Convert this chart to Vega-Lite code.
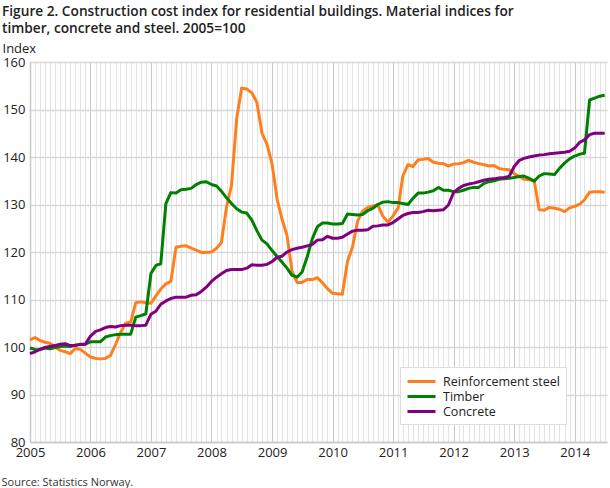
{
  "$schema": "https://vega.github.io/schema/vega-lite/v6.json",
  "width": 577,
  "height": 380,
  "autosize": {"type": "none"},
  "padding": {"left": 30, "top": 62, "right": 3, "bottom": 46},
  "background": "white",
  "config": {
    "font": "Open Sans",
    "view": {"stroke": null}
  },
  "title": {
    "text": ["Figure 2. Construction cost index for residential buildings. Material indices for", "timber, concrete and steel. 2005=100"],
    "anchor": "start",
    "frame": "group",
    "orient": "top",
    "dx": -28,
    "offset": 6,
    "fontSize": 13.7,
    "fontWeight": 600,
    "lineHeight": 17,
    "color": "#222222",
    "font": "Open Sans"
  },
  "data": {
    "values": [
      {"date": "2005-01", "s": 101.5, "t": 99.8, "c": 98.6},
      {"date": "2005-02", "s": 102, "t": 99.5, "c": 99},
      {"date": "2005-03", "s": 101.4, "t": 99.4, "c": 99.5},
      {"date": "2005-04", "s": 101, "t": 99.8, "c": 99.9},
      {"date": "2005-05", "s": 100.8, "t": 99.6, "c": 100.1},
      {"date": "2005-06", "s": 100, "t": 99.9, "c": 100.3},
      {"date": "2005-07", "s": 99.3, "t": 100.1, "c": 100.6},
      {"date": "2005-08", "s": 99, "t": 100.2, "c": 100.7},
      {"date": "2005-09", "s": 98.6, "t": 100.1, "c": 100.3},
      {"date": "2005-10", "s": 99.7, "t": 100.4, "c": 100.3},
      {"date": "2005-11", "s": 99.5, "t": 100.5, "c": 100.6},
      {"date": "2005-12", "s": 98.7, "t": 100.6, "c": 100.6},
      {"date": "2006-01", "s": 97.9, "t": 101.1, "c": 102.3},
      {"date": "2006-02", "s": 97.6, "t": 101.1, "c": 103.3},
      {"date": "2006-03", "s": 97.5, "t": 101.1, "c": 103.6},
      {"date": "2006-04", "s": 97.6, "t": 102.1, "c": 104.1},
      {"date": "2006-05", "s": 98.2, "t": 102.4, "c": 104.3},
      {"date": "2006-06", "s": 100.5, "t": 102.6, "c": 104.2},
      {"date": "2006-07", "s": 103, "t": 102.7, "c": 104.5},
      {"date": "2006-08", "s": 105, "t": 102.7, "c": 104.6},
      {"date": "2006-09", "s": 105.3, "t": 102.7, "c": 104.6},
      {"date": "2006-10", "s": 109.3, "t": 106.3, "c": 104.5},
      {"date": "2006-11", "s": 109.5, "t": 106.6, "c": 104.5},
      {"date": "2006-12", "s": 109.3, "t": 107, "c": 104.6},
      {"date": "2007-01", "s": 109.2, "t": 115.5, "c": 106.9},
      {"date": "2007-02", "s": 110.8, "t": 117.2, "c": 107.6},
      {"date": "2007-03", "s": 112.2, "t": 117.5, "c": 109},
      {"date": "2007-04", "s": 113.3, "t": 130.2, "c": 109.7},
      {"date": "2007-05", "s": 113.8, "t": 132.5, "c": 110.2},
      {"date": "2007-06", "s": 121, "t": 132.4, "c": 110.5},
      {"date": "2007-07", "s": 121.2, "t": 133.1, "c": 110.5},
      {"date": "2007-08", "s": 121.3, "t": 133.2, "c": 110.5},
      {"date": "2007-09", "s": 120.8, "t": 133.4, "c": 110.9},
      {"date": "2007-10", "s": 120.4, "t": 134.2, "c": 111},
      {"date": "2007-11", "s": 119.9, "t": 134.7, "c": 111.7},
      {"date": "2007-12", "s": 119.9, "t": 134.8, "c": 112.6},
      {"date": "2008-01", "s": 120, "t": 134.2, "c": 113.8},
      {"date": "2008-02", "s": 120.8, "t": 133.9, "c": 114.7},
      {"date": "2008-03", "s": 122, "t": 132.8, "c": 115.4},
      {"date": "2008-04", "s": 129.5, "t": 131.4, "c": 116.1},
      {"date": "2008-05", "s": 134, "t": 130.2, "c": 116.3},
      {"date": "2008-06", "s": 148, "t": 129.1, "c": 116.3},
      {"date": "2008-07", "s": 154.5, "t": 128.4, "c": 116.3},
      {"date": "2008-08", "s": 154.3, "t": 128.2, "c": 116.6},
      {"date": "2008-09", "s": 153.5, "t": 126.7, "c": 117.3},
      {"date": "2008-10", "s": 151.5, "t": 124.5, "c": 117.2},
      {"date": "2008-11", "s": 145, "t": 122.5, "c": 117.2},
      {"date": "2008-12", "s": 142.7, "t": 121.7, "c": 117.4},
      {"date": "2009-01", "s": 138.5, "t": 120.3, "c": 118},
      {"date": "2009-02", "s": 131, "t": 119, "c": 118.9},
      {"date": "2009-03", "s": 127, "t": 117.9, "c": 119.1},
      {"date": "2009-04", "s": 123.5, "t": 116.6, "c": 120},
      {"date": "2009-05", "s": 116, "t": 115.1, "c": 120.5},
      {"date": "2009-06", "s": 113.6, "t": 114.7, "c": 120.8},
      {"date": "2009-07", "s": 113.6, "t": 115.8, "c": 121},
      {"date": "2009-08", "s": 114.2, "t": 119, "c": 121.3},
      {"date": "2009-09", "s": 114.2, "t": 122.8, "c": 121.6},
      {"date": "2009-10", "s": 114.6, "t": 125.3, "c": 122.5},
      {"date": "2009-11", "s": 113.5, "t": 126.1, "c": 122.6},
      {"date": "2009-12", "s": 112.3, "t": 126.1, "c": 123.3},
      {"date": "2010-01", "s": 111.3, "t": 125.9, "c": 122.9},
      {"date": "2010-02", "s": 111.2, "t": 125.9, "c": 122.9},
      {"date": "2010-03", "s": 111.1, "t": 126, "c": 123.1},
      {"date": "2010-04", "s": 118, "t": 128, "c": 123.8},
      {"date": "2010-05", "s": 121, "t": 127.9, "c": 124.4},
      {"date": "2010-06", "s": 126.5, "t": 127.8, "c": 124.6},
      {"date": "2010-07", "s": 128.6, "t": 127.9, "c": 124.6},
      {"date": "2010-08", "s": 129.4, "t": 128.7, "c": 124.7},
      {"date": "2010-09", "s": 129.7, "t": 129.2, "c": 125.4},
      {"date": "2010-10", "s": 129.9, "t": 130, "c": 125.5},
      {"date": "2010-11", "s": 127.5, "t": 130.5, "c": 125.7},
      {"date": "2010-12", "s": 126.3, "t": 130.6, "c": 125.7},
      {"date": "2011-01", "s": 127.6, "t": 130.4, "c": 126.2},
      {"date": "2011-02", "s": 129.3, "t": 130.4, "c": 127},
      {"date": "2011-03", "s": 136, "t": 130.2, "c": 127.7},
      {"date": "2011-04", "s": 138.4, "t": 130, "c": 128.1},
      {"date": "2011-05", "s": 138, "t": 131.3, "c": 128.3},
      {"date": "2011-06", "s": 139.4, "t": 132.4, "c": 128.3},
      {"date": "2011-07", "s": 139.5, "t": 132.4, "c": 128.5},
      {"date": "2011-08", "s": 139.7, "t": 132.6, "c": 128.8},
      {"date": "2011-09", "s": 138.9, "t": 132.9, "c": 128.7},
      {"date": "2011-10", "s": 138.7, "t": 133.6, "c": 128.8},
      {"date": "2011-11", "s": 138.6, "t": 133, "c": 128.9},
      {"date": "2011-12", "s": 138.1, "t": 133, "c": 129.9},
      {"date": "2012-01", "s": 138.5, "t": 132.7, "c": 132.5},
      {"date": "2012-02", "s": 138.6, "t": 132.7, "c": 133.4},
      {"date": "2012-03", "s": 138.8, "t": 133, "c": 134},
      {"date": "2012-04", "s": 139.3, "t": 133.4, "c": 134.3},
      {"date": "2012-05", "s": 138.9, "t": 133.6, "c": 134.5},
      {"date": "2012-06", "s": 138.6, "t": 133.6, "c": 134.8},
      {"date": "2012-07", "s": 138.4, "t": 134.4, "c": 135.1},
      {"date": "2012-08", "s": 138.1, "t": 134.8, "c": 135.3},
      {"date": "2012-09", "s": 138.2, "t": 135, "c": 135.4},
      {"date": "2012-10", "s": 137.6, "t": 135.3, "c": 135.6},
      {"date": "2012-11", "s": 137.4, "t": 135.4, "c": 135.7},
      {"date": "2012-12", "s": 137.3, "t": 135.5, "c": 135.9},
      {"date": "2013-01", "s": 136.5, "t": 135.7, "c": 138},
      {"date": "2013-02", "s": 135.9, "t": 135.9, "c": 139.3},
      {"date": "2013-03", "s": 135.3, "t": 136, "c": 139.7},
      {"date": "2013-04", "s": 135.2, "t": 135.5, "c": 140},
      {"date": "2013-05", "s": 135.1, "t": 134.9, "c": 140.2},
      {"date": "2013-06", "s": 128.9, "t": 136, "c": 140.4},
      {"date": "2013-07", "s": 128.8, "t": 136.5, "c": 140.5},
      {"date": "2013-08", "s": 129.4, "t": 136.4, "c": 140.7},
      {"date": "2013-09", "s": 129.2, "t": 136.3, "c": 140.8},
      {"date": "2013-10", "s": 129, "t": 137.6, "c": 140.9},
      {"date": "2013-11", "s": 128.5, "t": 138.7, "c": 141},
      {"date": "2013-12", "s": 129.3, "t": 139.6, "c": 141.2},
      {"date": "2014-01", "s": 129.6, "t": 140.2, "c": 141.9},
      {"date": "2014-02", "s": 130.1, "t": 140.6, "c": 143.1},
      {"date": "2014-03", "s": 131, "t": 140.8, "c": 143.6},
      {"date": "2014-04", "s": 132.6, "t": 152, "c": 144.7},
      {"date": "2014-05", "s": 132.7, "t": 152.4, "c": 145},
      {"date": "2014-06", "s": 132.7, "t": 152.8, "c": 145},
      {"date": "2014-07", "s": 132.6, "t": 153, "c": 145}
    ],
    "format": {"parse": {"date": "date:'%Y-%m'"}}
  },
  "transform": [
    {"fold": ["s", "t", "c"], "as": ["key", "value"]},
    {"lookup": "key", "from": {"data": {"values": [
      {"key": "s", "series": "Reinforcement steel", "order": 0},
      {"key": "t", "series": "Timber", "order": 1},
      {"key": "c", "series": "Concrete", "order": 2}
    ]}, "key": "key", "fields": ["series", "order"]}}
  ],
  "mark": {"type": "line", "strokeWidth": 3, "strokeJoin": "round"},
  "encoding": {
    "x": {
      "field": "date",
      "type": "temporal",
      "scale": {"domain": [{"year": 2005, "month": 1, "date": 1}, {"year": 2014, "month": 7, "date": 15}]},
      "axis": {
        "tickCount": {"interval": "month", "step": 1},
        "labelExpr": "month(datum.value) == 0 ? timeFormat(datum.value, '%Y') : ''",
        "labelOverlap": false,
        "labelFlush": false,
        "labelFontSize": 13,
        "labelColor": "#222222",
        "labelPadding": 4,
        "ticks": false,
        "grid": true,
        "gridColor": {"condition": {"test": "month(datum.value) == 0", "value": "#c8c8c8"}, "value": "#e3e3e3"},
        "gridWidth": 1,
        "domainColor": "#c8c8c8",
        "domainWidth": 1.5,
        "title": "Source: Statistics Norway.",
        "titleAnchor": "start",
        "titleAlign": "left",
        "titleBaseline": "alphabetic",
        "titleX": -29,
        "titleY": 43,
        "titleFontSize": 11,
        "titleFontWeight": "normal",
        "titleColor": "#333333"
      }
    },
    "y": {
      "field": "value",
      "type": "quantitative",
      "scale": {"domain": [80, 160], "nice": false, "zero": false},
      "axis": {
        "values": [80, 90, 100, 110, 120, 130, 140, 150, 160],
        "ticks": false,
        "labelFontSize": 13,
        "labelColor": "#222222",
        "labelPadding": 5,
        "grid": true,
        "gridColor": "#d6d6d6",
        "gridWidth": 1.5,
        "domainColor": "#c8c8c8",
        "domainWidth": 1.5,
        "title": "Index",
        "titleAngle": 0,
        "titleAlign": "left",
        "titleBaseline": "alphabetic",
        "titleX": -28,
        "titleY": -10,
        "titleFontSize": 13,
        "titleFontWeight": "normal",
        "titleColor": "#222222"
      }
    },
    "color": {
      "field": "series",
      "type": "nominal",
      "scale": {"domain": ["Reinforcement steel", "Timber", "Concrete"], "range": ["#ff7f1e", "#008000", "#800080"]},
      "legend": {
        "title": null,
        "orient": "none",
        "legendX": 370,
        "legendY": 305,
        "fillColor": "white",
        "strokeColor": "#dddddd",
        "padding": 6,
        "symbolType": "M-1,0H3",
        "symbolSize": 196,
        "symbolStrokeWidth": 3,
        "labelFontSize": 12.5,
        "labelColor": "#222222",
        "labelOffset": 20,
        "rowPadding": 0
      }
    },
    "order": {"field": "order"}
  }
}
